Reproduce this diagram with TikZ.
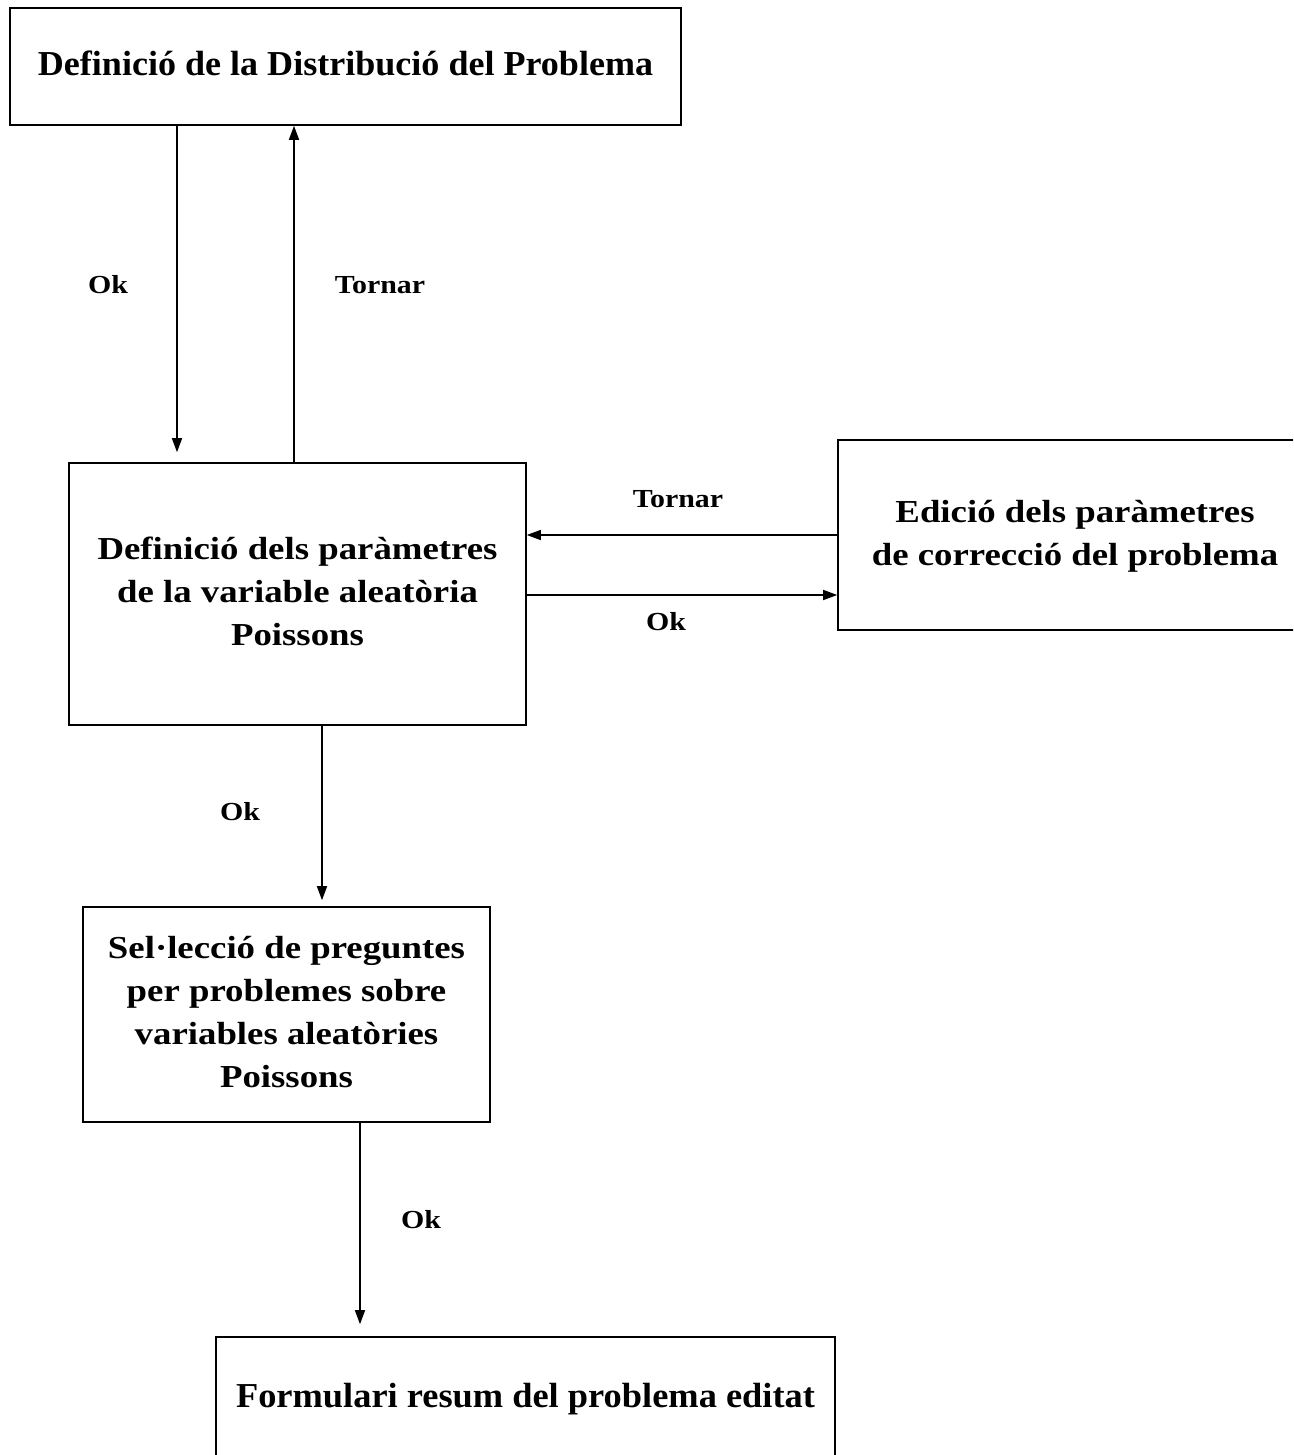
\documentclass[tikz,border=0pt]{standalone}
\usepackage{fontspec}
\setmainfont{Liberation Serif}
\usepackage{graphicx}
\usetikzlibrary{arrows.meta}

% bold block of centred lines, widened horizontally
\newcommand\boxtext[3]{{\fontsize{#1}{43}\selectfont\bfseries\scalebox{#2}[1]{\begin{tabular}{@{}c@{}}#3\end{tabular}}}}
\newcommand\lbltext[1]{\scalebox{1.15}[1]{#1}}

\begin{document}
\begin{tikzpicture}[x=1pt,y=-1pt,
  box/.style={draw, line width=1.6pt, inner sep=0pt, anchor=center},
  flow/.style={line width=1.5pt, -{Triangle[length=14pt,width=10pt]}},
  lbl/.style={inner sep=0pt, font=\fontsize{26}{30}\selectfont\bfseries}]

\useasboundingbox (0,0) rectangle (1293,1455);
\clip (0,0) rectangle (1293,1455);

% boxes
\node[box, minimum width=671pt, minimum height=117pt] (dist) at (345.5,66.5)
  {\boxtext{35}{1.03}{Definició de la Distribució del Problema}};
\node[box, minimum width=457pt, minimum height=262pt] (params) at (297.5,594)
  {\boxtext{32}{1.15}{Definició dels paràmetres\\de la variable aleatòria\\Poissons}};
\node[box, minimum width=474pt, minimum height=190pt] (corr) at (1075,535)
  {\boxtext{32}{1.15}{Edició dels paràmetres\\de correcció del problema}};
\node[box, minimum width=407pt, minimum height=215pt] (sel) at (286.5,1014.5)
  {\boxtext{32}{1.15}{Sel·lecció de preguntes\\per problemes sobre\\variables aleatòries\\Poissons}};
\node[box, minimum width=619pt, minimum height=124pt] (form) at (525.5,1399)
  {\boxtext{35}{1.04}{Formulari resum del problema editat}};

% connector columns and rows
\coordinate (c1) at (177,0);
\coordinate (c2) at (294,0);
\coordinate (c3) at (322,0);
\coordinate (c4) at (360,0);
\coordinate (r1) at (0,535);
\coordinate (r2) at (0,595);

% connectors
\draw[flow, shorten >=10pt] (dist.south -| c1) -- (params.north -| c1);
\draw[flow] (params.north -| c2) -- (dist.south -| c2);
\draw[flow] (corr.west |- r1) -- (params.east |- r1);
\draw[flow] (params.east |- r2) -- (corr.west |- r2);
\draw[flow, shorten >=6pt] (params.south -| c3) -- (sel.north -| c3);
\draw[flow, shorten >=12pt] (sel.south -| c4) -- (form.north -| c4);

% connector labels
\node[lbl] (l1) at (108,285) {\lbltext{Ok}};
\node[lbl] (l2) at (380,285) {\lbltext{Tornar}};
\node[lbl] (l3) at (678,499) {\lbltext{Tornar}};
\node[lbl] (l4) at (666,622) {\lbltext{Ok}};
\node[lbl] (l5) at (240,812) {\lbltext{Ok}};
\node[lbl] (l6) at (421,1220) {\lbltext{Ok}};
\end{tikzpicture}
\end{document}
